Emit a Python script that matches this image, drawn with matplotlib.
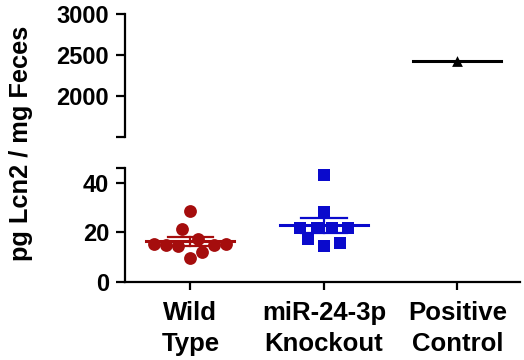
import numpy as np
import matplotlib
matplotlib.use("Agg")
import matplotlib.pyplot as plt

plt.rcParams['font.family'] = ['Liberation Sans', 'DejaVu Sans']
plt.rcParams['font.weight'] = 'bold'

# Data
groups = ["Wild\nType", "miR-24-3p\nKnockout", "Positive\nControl"]
wild_values = [28.6, 21.3, 15.2, 14.8, 14.4, 17.3, 14.8, 15.2, 12.0, 9.6]
wild_jitter = [0.0, -0.06, -0.27, -0.18, -0.09, 0.06, 0.18, 0.27, 0.09, 0.0]
ko_values = [43.4, 28.2, 21.7, 21.7, 21.7, 21.7, 17.3, 14.4, 15.6]
ko_jitter = [0.0, 0.0, -0.18, -0.05, 0.06, 0.18, -0.12, 0.0, 0.12]
positive_value = 2422

red = "#a50d0d"
blue = "#0a0acc"

fig = plt.figure(figsize=(5.24, 3.6), dpi=100)
ax_top = fig.add_axes([0.2385, 0.6194, 0.754, 0.3417])
ax_bot = fig.add_axes([0.2385, 0.2175, 0.754, 0.315])

spine_w = 1.6


def mean_sem(ax, x, values, color):
    '''Mean line with SEM error bar'''
    v = np.array(values)
    m = v.mean()
    sem = v.std(ddof=1) / np.sqrt(len(v))
    ax.plot([x - 0.33, x + 0.33], [m, m], color=color, lw=2.2, zorder=4)
    ax.plot([x, x], [m - sem, m + sem], color=color, lw=1.6, zorder=4)
    for y in (m - sem, m + sem):
        ax.plot([x - 0.17, x + 0.17], [y, y], color=color, lw=1.6, zorder=4)


# Lower panel
ax_bot.scatter(1 + np.array(wild_jitter), wild_values, s=85, marker='o',
               color=red, zorder=3, linewidths=0)
ax_bot.scatter(2 + np.array(ko_jitter), ko_values, s=66, marker='s',
               color=blue, zorder=3, linewidths=0)
mean_sem(ax_bot, 1, wild_values, red)
mean_sem(ax_bot, 2, ko_values, blue)

# Upper panel
ax_top.plot([3 - 0.33, 3 + 0.33], [positive_value, positive_value],
            color='black', lw=2.2, zorder=4)
ax_top.scatter([3], [positive_value], s=60, marker='^', color='black',
               zorder=5, linewidths=0)

for ax in (ax_top, ax_bot):
    ax.set_xlim(0.51, 3.47)
    ax.spines['top'].set_visible(False)
    ax.spines['right'].set_visible(False)
    ax.spines['left'].set_linewidth(spine_w)
    ax.spines['bottom'].set_linewidth(spine_w)
    ax.tick_params(axis='y', length=6.5, width=spine_w, labelsize=17, pad=5)
    ax.tick_params(axis='x', length=6, width=spine_w, labelsize=18.5, pad=8)

ax_top.spines['bottom'].set_visible(False)
ax_top.set_ylim(1500, 3000)
ax_top.set_yticks([1500, 2000, 2500, 3000])
ax_top.set_yticklabels(['', '2000', '2500', '3000'], fontweight='bold')
ax_top.set_xticks([])

ax_bot.set_ylim(0, 46)
ax_bot.set_yticks([0, 20, 40, 46])
ax_bot.set_yticklabels(['0', '20', '40', ''], fontweight='bold')
ax_bot.set_xticks([1, 2, 3])
ax_bot.set_xticklabels(groups, fontweight='bold', linespacing=1.35)

fig.text(0.041, 0.601, "pg Lcn2 / mg Feces", rotation=90, ha='center',
         va='center', fontsize=18.3, fontweight='bold')

fig.savefig("out.png", dpi=100)
